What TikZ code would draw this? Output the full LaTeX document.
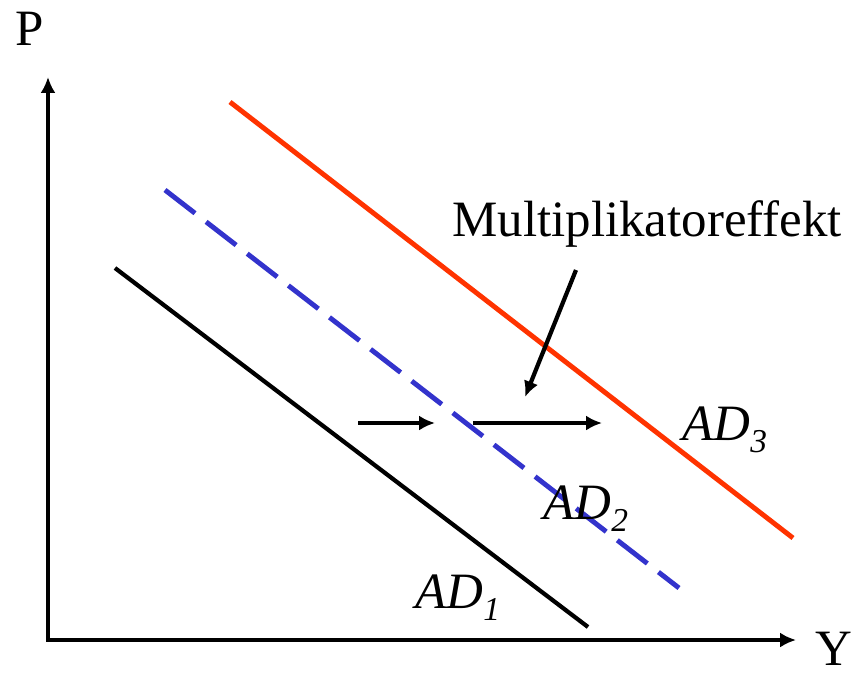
\documentclass[tikz,border=0pt]{standalone}
\usepackage{fontspec}
\setmainfont{Liberation Serif}
\usepackage{tikz}
\usetikzlibrary{arrows,arrows.meta}
\definecolor{adred}{RGB}{255,51,0}
\definecolor{adblue}{RGB}{51,51,204}
\newcommand{\adsub}[1]{\raisebox{-7pt}{\fontsize{19}{22}\selectfont #1}}
\tikzstyle{lbl}=[inner sep=0pt,anchor=base west,font=\fontsize{29}{34}\selectfont]
\tikzstyle{shiftarrow}=[line width=2.4pt,-{Latex[length=9pt,width=8.5pt]}]

\begin{document}
\begin{tikzpicture}[x=0.02cm,y=-0.02cm]
\useasboundingbox (0,0) rectangle (859,674);
\coordinate (origin) at (48,640);
\coordinate (ytop) at (48,77);
\coordinate (xend) at (796,640);
\draw [line width=2.4pt,{Latex[length=9pt,width=8.5pt]}-{Latex[length=9pt,width=8.5pt]}] (ytop) -- (origin) -- (xend);
\node [lbl] (P) at (15,45) {P};
\node [lbl,text depth=0pt] (Y) at (815,665) {Y};
\coordinate (ad1a) at (115,268);
\coordinate (ad1b) at (588,627);
\coordinate (ad2a) at (165,190);
\coordinate (ad2b) at (679,588);
\coordinate (ad3a) at (230,102);
\coordinate (ad3b) at (793,538);
\draw [line width=2.4pt] (ad1a) -- (ad1b);
\draw [line width=2.8pt,adblue,dash pattern=on 21.6pt off 8pt] (ad2a) -- (ad2b);
\draw [line width=2.8pt,adred] (ad3a) -- (ad3b);
\node [lbl] (AD1) at (415,608) {\itshape AD\adsub{1}};
\node [lbl] (AD2) at (543,519) {\itshape AD\adsub{2}};
\node [lbl] (AD3) at (682,440) {\itshape AD\adsub{3}};
\node [lbl] (mult) at (452,236) {Multiplikatoreffekt};
\coordinate (s1a) at (358,423);
\coordinate (s1b) at (435,423);
\coordinate (s2a) at (473,423);
\coordinate (s2b) at (602,423);
\coordinate (ma) at (576,270);
\coordinate (mb) at (525,397);
\draw [shiftarrow] (s1a) -- (s1b);
\draw [shiftarrow] (s2a) -- (s2b);
\draw [shiftarrow] (ma) -- (mb);
\end{tikzpicture}
\end{document}
